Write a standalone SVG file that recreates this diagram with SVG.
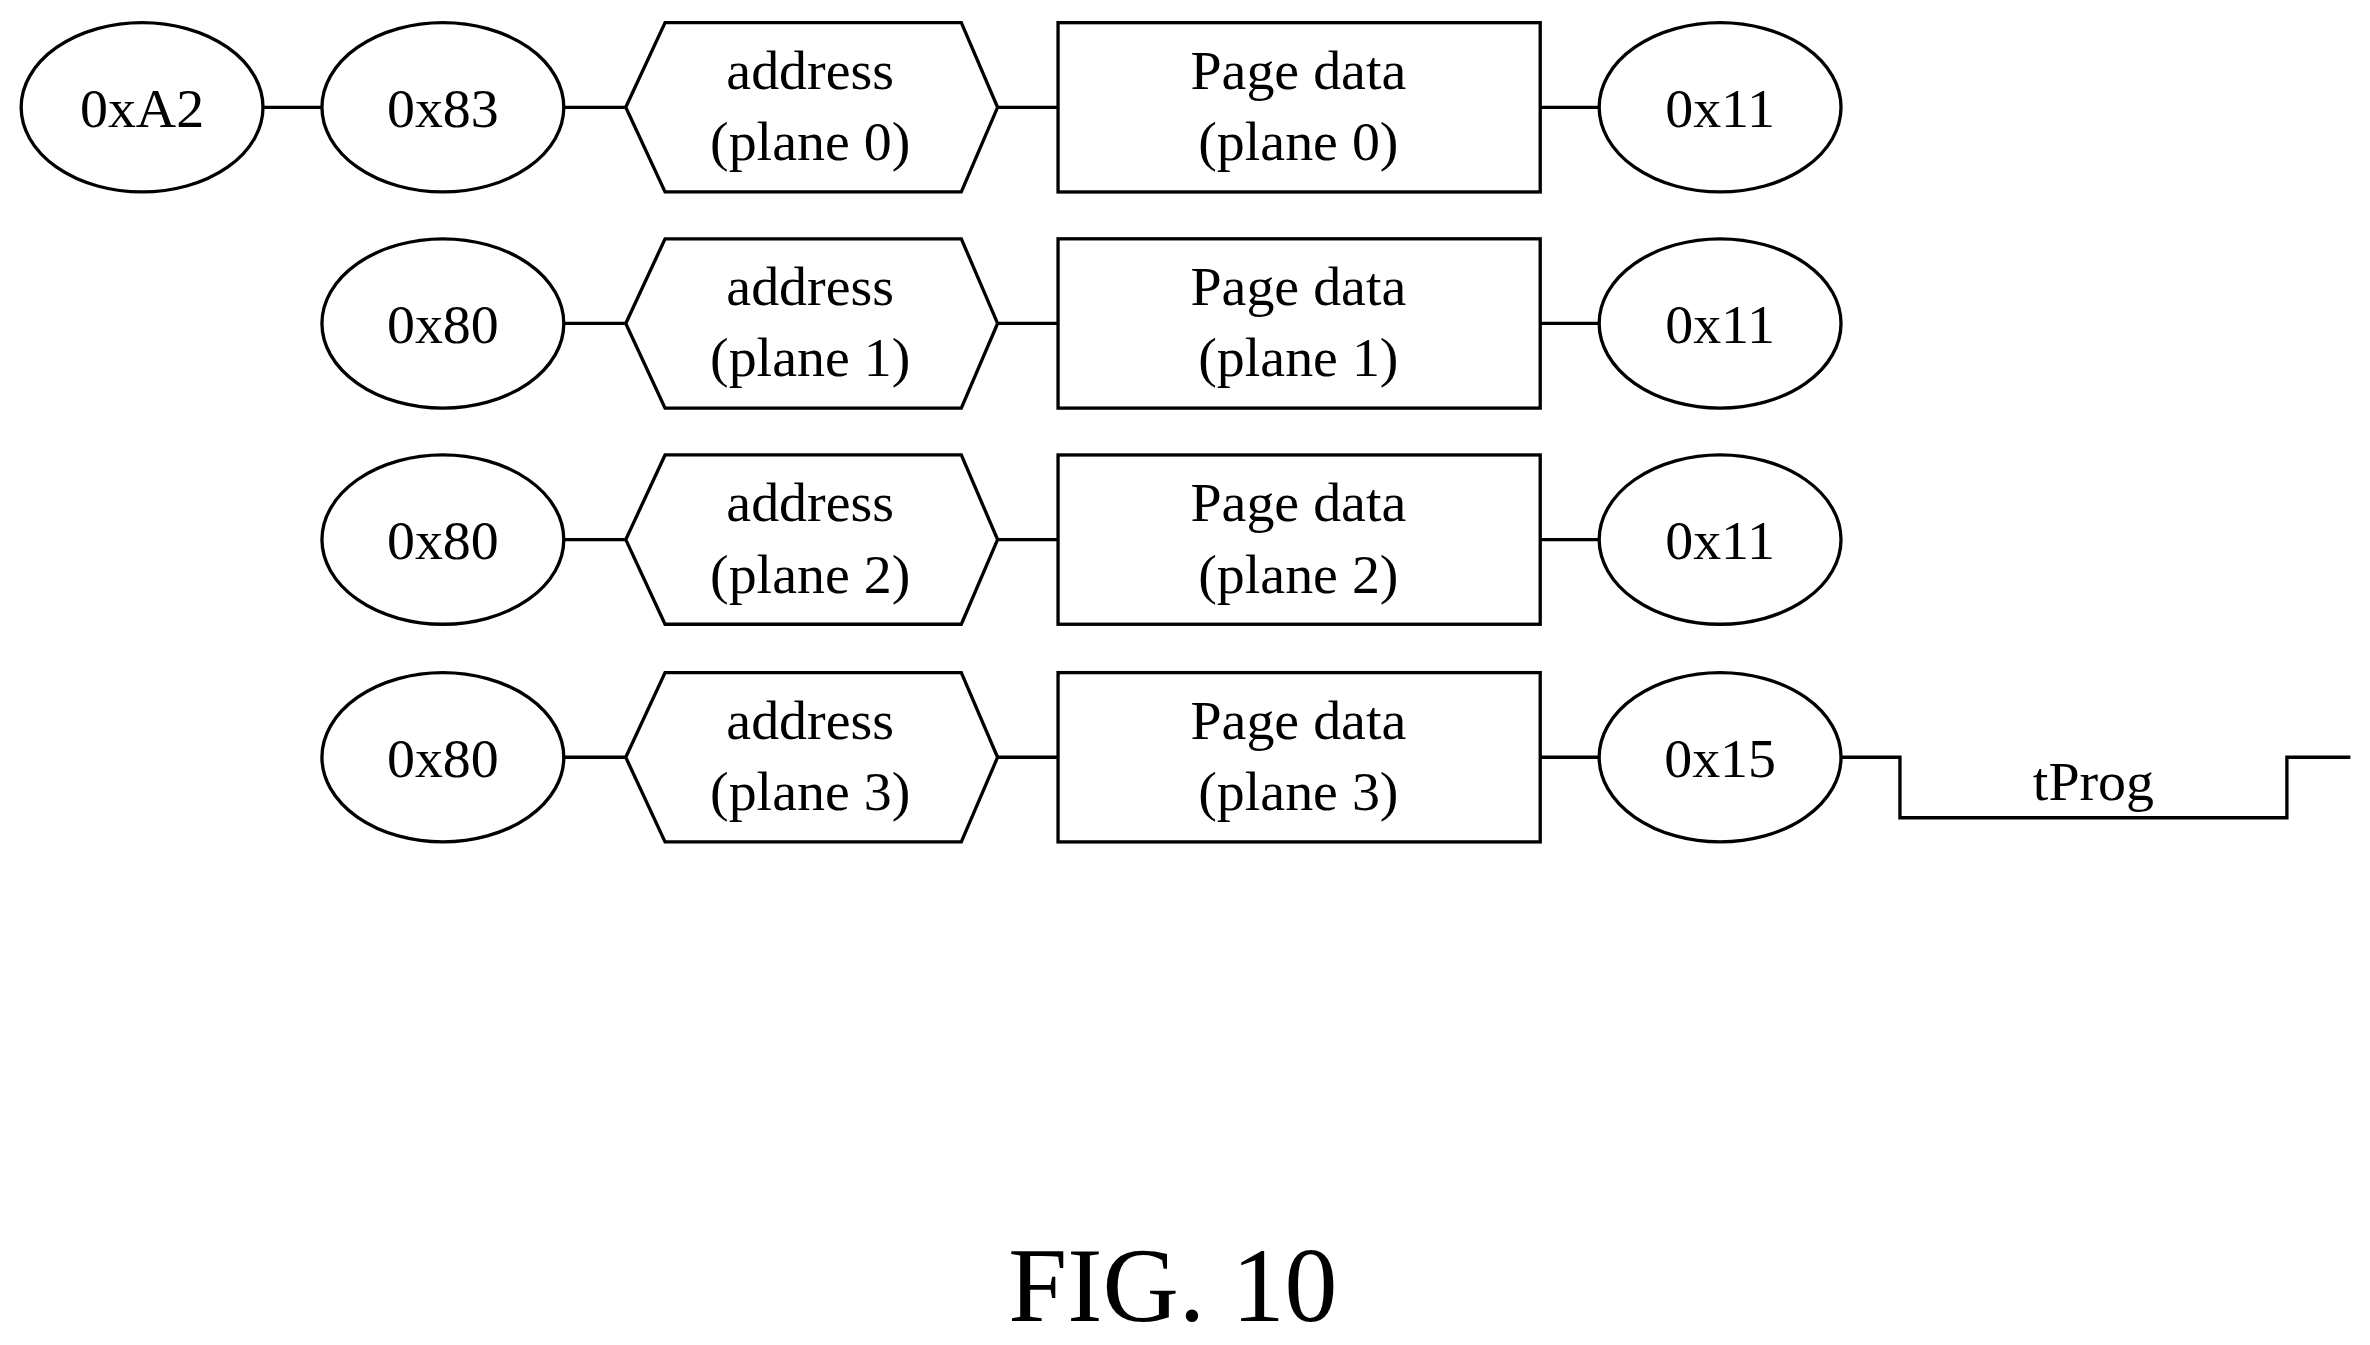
<svg xmlns="http://www.w3.org/2000/svg" width="2370" height="1345" viewBox="0 0 2370 1345">
<style>
.s{fill:none;stroke:#000;stroke-width:2.2}
.t{font-family:"Liberation Serif",serif;font-size:37px;text-anchor:middle;fill:#000}
</style>
<defs>
<polygon id="hex" points="414,0 440,-56 636,-56 660,0 636,56 440,56"/>
</defs>
<rect width="2370" height="1345" fill="#fff"/>
<g transform="scale(1.5115)">
<g id="connectors" class="s">
<line x1="174" y1="71" x2="213" y2="71"/>
<line x1="373" y1="71" x2="414" y2="71"/><line x1="660" y1="71" x2="700" y2="71"/><line x1="1019" y1="71" x2="1058" y2="71"/>
<line x1="373" y1="214" x2="414" y2="214"/><line x1="660" y1="214" x2="700" y2="214"/><line x1="1019" y1="214" x2="1058" y2="214"/>
<line x1="373" y1="357" x2="414" y2="357"/><line x1="660" y1="357" x2="700" y2="357"/><line x1="1019" y1="357" x2="1058" y2="357"/>
<line x1="373" y1="501" x2="414" y2="501"/><line x1="660" y1="501" x2="700" y2="501"/><line x1="1019" y1="501" x2="1058" y2="501"/>
<polyline points="1218,501 1257,501 1257,541 1513,541 1513,501 1555,501"/>
</g>
<g id="n_A2"><ellipse class="s" cx="94" cy="71" rx="80" ry="56"/><text class="t" x="94" y="84">0xA2</text></g>
<g id="n_83"><ellipse class="s" cx="293" cy="71" rx="80" ry="56"/><text class="t" x="293" y="84">0x83</text></g>
<g id="addr0"><use href="#hex" class="s" y="71"/><text class="t" x="536" y="59">address</text><text class="t" x="536" y="106">(plane 0)</text></g>
<g id="page0"><rect class="s" x="700" y="15" width="319" height="112"/><text class="t" x="859" y="59">Page data</text><text class="t" x="859" y="106">(plane 0)</text></g>
<g id="e0"><ellipse class="s" cx="1138" cy="71" rx="80" ry="56"/><text class="t" x="1138" y="84">0x11</text></g>

<g id="n_80a"><ellipse class="s" cx="293" cy="214" rx="80" ry="56"/><text class="t" x="293" y="227">0x80</text></g>
<g id="addr1"><use href="#hex" class="s" y="214"/><text class="t" x="536" y="202">address</text><text class="t" x="536" y="249">(plane 1)</text></g>
<g id="page1"><rect class="s" x="700" y="158" width="319" height="112"/><text class="t" x="859" y="202">Page data</text><text class="t" x="859" y="249">(plane 1)</text></g>
<g id="e1"><ellipse class="s" cx="1138" cy="214" rx="80" ry="56"/><text class="t" x="1138" y="227">0x11</text></g>

<g id="n_80b"><ellipse class="s" cx="293" cy="357" rx="80" ry="56"/><text class="t" x="293" y="370">0x80</text></g>
<g id="addr2"><use href="#hex" class="s" y="357"/><text class="t" x="536" y="345">address</text><text class="t" x="536" y="392">(plane 2)</text></g>
<g id="page2"><rect class="s" x="700" y="301" width="319" height="112"/><text class="t" x="859" y="345">Page data</text><text class="t" x="859" y="392">(plane 2)</text></g>
<g id="e2"><ellipse class="s" cx="1138" cy="357" rx="80" ry="56"/><text class="t" x="1138" y="370">0x11</text></g>

<g id="n_80c"><ellipse class="s" cx="293" cy="501" rx="80" ry="56"/><text class="t" x="293" y="514">0x80</text></g>
<g id="addr3"><use href="#hex" class="s" y="501"/><text class="t" x="536" y="489">address</text><text class="t" x="536" y="536">(plane 3)</text></g>
<g id="page3"><rect class="s" x="700" y="445" width="319" height="112"/><text class="t" x="859" y="489">Page data</text><text class="t" x="859" y="536">(plane 3)</text></g>
<g id="e3"><ellipse class="s" cx="1138" cy="501" rx="80" ry="56"/><text class="t" x="1138" y="514">0x15</text></g>
<g id="tprog"><text class="t" x="1385" y="529">tProg</text></g>
<text class="t" x="776" y="874" style="font-size:70px">FIG. 10</text>
</g>
</svg>
